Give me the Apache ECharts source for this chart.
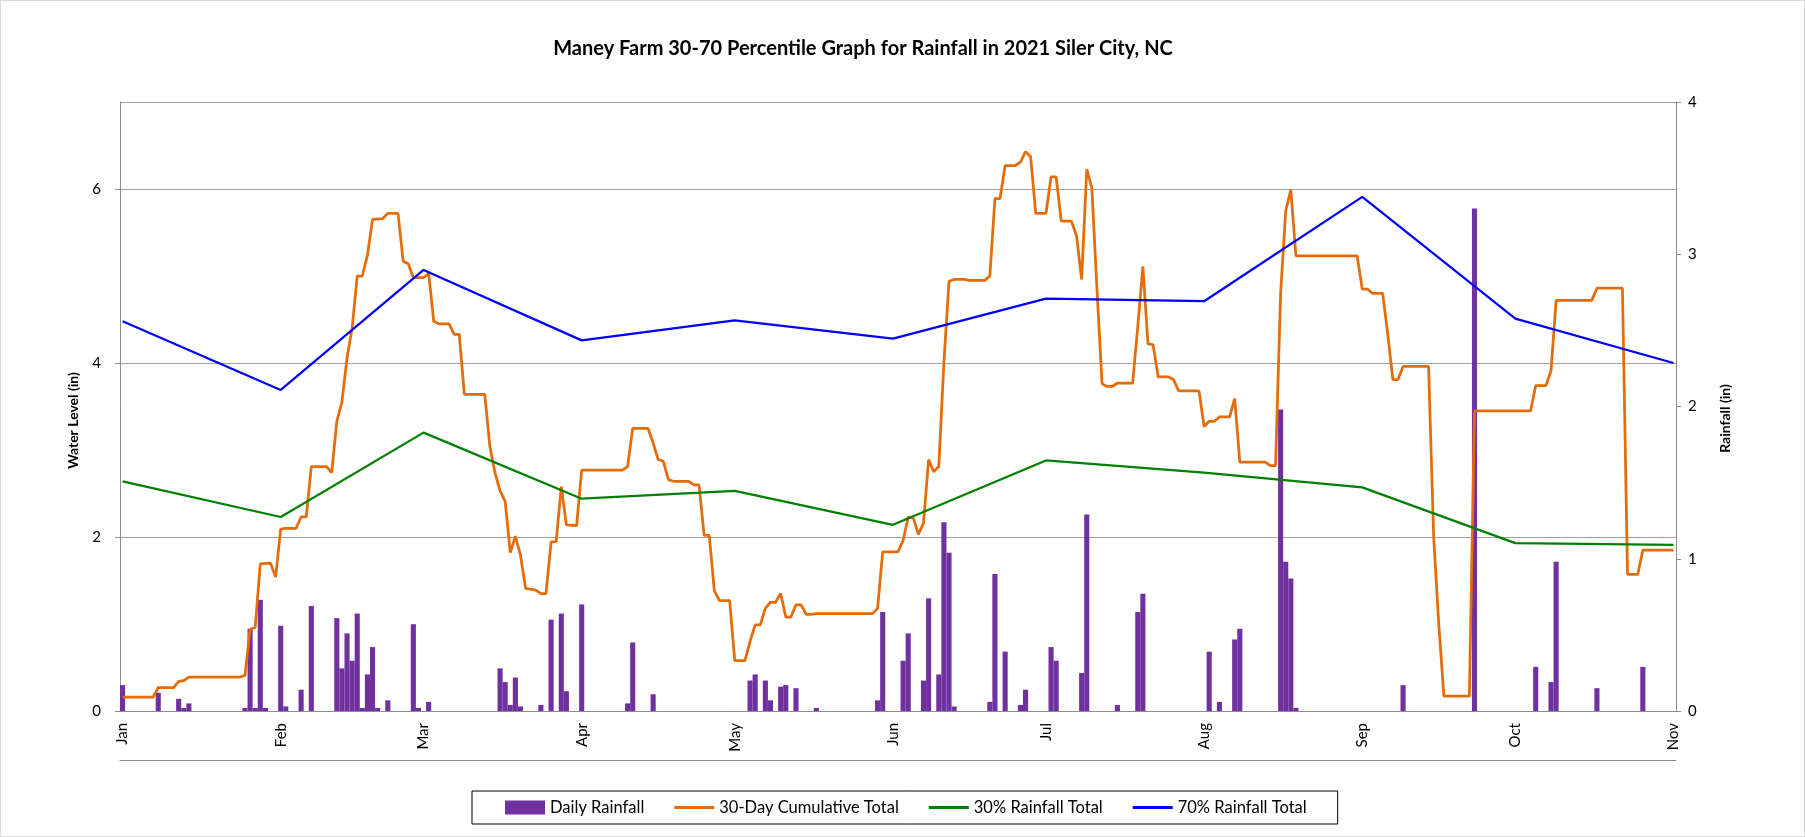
<!DOCTYPE html>
<html>
<head>
<meta charset="utf-8">
<title>Maney Farm 30-70 Percentile Graph</title>
<script src="https://cdn.jsdelivr.net/npm/echarts@6/dist/echarts.min.js"></script>
<style>
    body { margin: 0; background: #fff; }
    #main { width: 1805px; height: 837px; box-sizing: border-box; border: 1px solid #d9d9d9; }
</style>
</head>
<body>
<div id="main"></div>
<script>
// daily rainfall (right axis), only the days with rain
const rainDates = ['01-01','01-08','01-12','01-13','01-14','01-25','01-26','01-27','01-28','01-29',
    '02-01','02-02','02-05','02-07','02-12','02-13','02-14','02-15','02-16','02-17','02-18','02-19','02-20','02-22','02-27','02-28',
    '03-02','03-16','03-17','03-18','03-19','03-20','03-24','03-26','03-28','03-29',
    '04-01','04-10','04-11','04-15',
    '05-04','05-05','05-07','05-08','05-10','05-11','05-13','05-17','05-29','05-30',
    '06-03','06-04','06-07','06-08','06-10','06-11','06-12','06-13','06-20','06-21','06-23','06-26','06-27',
    '07-02','07-03','07-08','07-09','07-15','07-19','07-20',
    '08-02','08-04','08-07','08-08','08-16','08-17','08-18','08-19',
    '09-09','09-23',
    '10-05','10-08','10-09','10-17','10-26'];
const rainValues = [0.17,0.12,0.08,0.02,0.05,0.02,0.54,0.02,0.73,0.02,
    0.56,0.03,0.14,0.69,0.61,0.28,0.51,0.33,0.64,0.02,0.24,0.42,0.02,0.07,0.57,0.02,
    0.06,0.28,0.19,0.04,0.22,0.03,0.04,0.60,0.64,0.13,
    0.70,0.05,0.45,0.11,
    0.20,0.24,0.20,0.07,0.16,0.17,0.15,0.02,0.07,0.65,
    0.33,0.51,0.20,0.74,0.24,1.24,1.04,0.03,0.06,0.90,0.39,0.04,0.14,
    0.42,0.33,0.25,1.29,0.04,0.65,0.77,
    0.39,0.06,0.47,0.54,1.98,0.98,0.87,0.02,
    0.17,3.30,
    0.29,0.19,0.98,0.15,0.29];

// 30-day cumulative total (left axis), read where the line bends
const cumDates = ['01-01','01-07','01-08','01-11','01-12','01-13','01-14','01-24','01-25','01-26','01-27','01-28','01-30','01-31',
    '02-01','02-02','02-04','02-05','02-06','02-07','02-10','02-11','02-12','02-13','02-14','02-15','02-16','02-17','02-18','02-19',
    '02-21','02-22','02-24','02-25','02-26','02-27',
    '03-01','03-02','03-03','03-04','03-06','03-07','03-08','03-09','03-13','03-14','03-15','03-16','03-17','03-18','03-19','03-20',
    '03-21','03-23','03-24','03-25','03-26','03-27','03-28','03-29','03-31',
    '04-01','04-09','04-10','04-11','04-14','04-15','04-16','04-17','04-18','04-19','04-22','04-23','04-24','04-25','04-26','04-27',
    '04-28','04-30',
    '05-01','05-03','05-04','05-05','05-06','05-07','05-08','05-09','05-10','05-11','05-12','05-13','05-14','05-15','05-16','05-17',
    '05-28','05-29','05-30',
    '06-02','06-03','06-04','06-05','06-06','06-07','06-08','06-09','06-10','06-11','06-12','06-13','06-15','06-16','06-19','06-20',
    '06-21','06-22','06-23','06-25','06-26','06-27','06-28','06-29',
    '07-01','07-02','07-03','07-04','07-06','07-07','07-08','07-09','07-10','07-11','07-12','07-13','07-14','07-15','07-18','07-19',
    '07-20','07-21','07-22','07-23','07-25','07-26','07-27','07-31',
    '08-01','08-02','08-03','08-04','08-06','08-07','08-08','08-13','08-14','08-15','08-16','08-17','08-18','08-19','08-31',
    '09-01','09-02','09-03','09-05','09-06','09-07','09-08','09-09','09-14','09-15','09-16','09-17','09-22','09-23',
    '10-04','10-05','10-07','10-08','10-09','10-16','10-17','10-22','10-23','10-25','10-26','11-01'];
const cumValues = [0.16,0.16,0.27,0.27,0.34,0.35,0.39,0.39,0.41,0.94,0.96,1.69,1.70,1.54,
    2.09,2.10,2.10,2.23,2.23,2.81,2.81,2.74,3.33,3.55,4.06,4.40,5.00,5.00,5.24,5.65,
    5.66,5.72,5.72,5.17,5.14,4.98,
    4.98,5.03,4.48,4.45,4.45,4.33,4.33,3.64,3.64,3.04,2.74,2.53,2.41,1.82,2.01,1.79,
    1.41,1.39,1.35,1.35,1.94,1.95,2.58,2.14,2.13,
    2.77,2.77,2.81,3.25,3.25,3.08,2.89,2.87,2.66,2.64,2.64,2.60,2.60,2.02,2.02,1.38,
    1.27,1.27,
    0.58,0.58,0.80,0.99,0.99,1.18,1.25,1.25,1.35,1.08,1.08,1.22,1.22,1.11,1.11,1.12,
    1.12,1.18,1.83,
    1.83,1.96,2.23,2.22,2.03,2.16,2.89,2.75,2.81,4.01,4.94,4.96,4.96,4.95,4.95,5.00,
    5.89,5.89,6.27,6.27,6.31,6.43,6.37,5.72,
    5.72,6.14,6.14,5.63,5.63,5.46,4.96,6.23,6.01,4.85,3.76,3.73,3.73,3.77,3.77,4.42,
    5.11,4.22,4.21,3.84,3.84,3.81,3.68,3.68,
    3.27,3.33,3.33,3.38,3.38,3.59,2.86,2.86,2.82,2.82,4.80,5.75,5.99,5.23,5.23,
    4.85,4.85,4.80,4.80,4.33,3.81,3.81,3.96,3.96,2.00,1.00,0.17,0.17,3.45,
    3.45,3.74,3.74,3.91,4.72,4.72,4.86,4.86,1.57,1.57,1.85,1.85];

// percentile totals, one value per month start
const pctDates = ['01-01','02-01','03-01','04-01','05-01','06-01','07-01','08-01','09-01','10-01','11-01'];
const pct30 = [2.64,2.23,3.20,2.44,2.53,2.14,2.88,2.74,2.57,1.93,1.91];
const pct70 = [4.48,3.69,5.07,4.26,4.49,4.28,4.74,4.71,5.91,4.51,4.00];

const monthNames = ['Jan','Feb','Mar','Apr','May','Jun','Jul','Aug','Sep','Oct','Nov'];

// every day from Jan 1 to Nov 1 2021
let days = [];
for (let t = Date.UTC(2021, 0, 1); t <= Date.UTC(2021, 10, 1); t += 86400000) {
    let d = new Date(t);
    days.push(String(d.getUTCMonth() + 1).padStart(2, '0') + '-' + String(d.getUTCDate()).padStart(2, '0'));
}

function byDay(dates, values, empty) {
    let map = {};
    dates.forEach((d, i) => { map[d] = values[i]; });
    return days.map(d => (d in map ? map[d] : empty));
}

const isMonthStart = (i, v) => v.slice(3) === '01';
const font = 'Lato, "Liberation Sans", sans-serif';
const axisGrey = '#8c8c8c';
const lineIcon = 'path://M0,0H40V3H0Z';

let option = {
    backgroundColor: '#fff',
    textStyle: { fontFamily: font },
    animation: false,
    title: {
        text: 'Maney Farm 30-70 Percentile Graph for Rainfall in 2021 Siler City, NC',
        left: 857,
        textAlign: 'center',
        top: 33,
        textStyle: { fontFamily: font, fontSize: 20, fontWeight: 'bold', color: '#000' }
    },
    legend: {
        left: 471,
        top: 790,
        padding: [8, 31, 8, 33],
        itemGap: 30,
        itemWidth: 40,
        itemHeight: 14,
        borderColor: '#000',
        borderWidth: 1,
        textStyle: { fontFamily: font, fontSize: 16.5, color: '#000' },
        data: [
            { name: 'Daily Rainfall', icon: 'rect' },
            { name: '30-Day Cumulative Total', icon: lineIcon },
            { name: '30% Rainfall Total', icon: lineIcon },
            { name: '70% Rainfall Total', icon: lineIcon }
        ]
    },
    grid: [
        { left: 119, right: 128, top: 101, bottom: 125 },
        // strip whose top edge is the rule under the month labels
        { left: 119, right: 128, top: 759, height: 10 }
    ],
    xAxis: [
        {
            type: 'category',
            data: days,
            boundaryGap: true,
            axisLine: { lineStyle: { color: axisGrey } },
            axisTick: { interval: isMonthStart, length: 5, lineStyle: { color: axisGrey } },
            axisLabel: {
                interval: isMonthStart,
                rotate: 90,
                margin: 12,
                fontSize: 15,
                color: '#000',
                formatter: v => monthNames[Number(v.slice(0, 2)) - 1]
            }
        },
        {
            gridIndex: 1,
            type: 'category',
            data: days,
            position: 'top',
            axisLine: { show: true, onZero: false, lineStyle: { color: axisGrey, width: 1 } },
            axisTick: { show: false },
            axisLabel: { show: false },
            splitLine: { show: false }
        }
    ],
    yAxis: [
        {
            type: 'value',
            name: 'Water Level (in)',
            nameLocation: 'middle',
            nameRotate: 90,
            nameGap: 40,
            nameTextStyle: { fontFamily: font, fontSize: 14, fontWeight: 'bold', color: '#000', padding: [0, 28, 0, 0] },
            min: 0,
            max: 7,
            interval: 2,
            axisLine: { show: true, lineStyle: { color: axisGrey } },
            axisTick: { show: true, length: 5, lineStyle: { color: axisGrey } },
            axisLabel: { showMaxLabel: false, margin: 19, fontSize: 15, color: '#000' },
            splitLine: { lineStyle: { color: '#a0a0a0', width: 1 } }
        },
        {
            type: 'value',
            name: 'Rainfall (in)',
            nameLocation: 'middle',
            nameRotate: 90,
            nameGap: 42,
            nameTextStyle: { fontFamily: font, fontSize: 14, fontWeight: 'bold', color: '#000', padding: [0, 24, 0, 0] },
            position: 'right',
            min: 0,
            max: 4,
            interval: 1,
            axisLine: { show: true, lineStyle: { color: axisGrey } },
            axisTick: { show: true, length: 5, lineStyle: { color: axisGrey } },
            axisLabel: { margin: 12, fontSize: 15, color: '#000' },
            splitLine: { show: false }
        },
        {
            gridIndex: 1,
            type: 'value',
            axisLine: { show: false },
            axisTick: { show: false },
            axisLabel: { show: false },
            splitLine: { show: false }
        }
    ],
    series: [
        {
            name: 'Daily Rainfall',
            type: 'bar',
            yAxisIndex: 1,
            data: byDay(rainDates, rainValues, 0),
            barCategoryGap: '0%',
            itemStyle: { color: '#7030a0' }
        },
        {
            name: '30-Day Cumulative Total',
            type: 'line',
            data: byDay(cumDates, cumValues, null),
            connectNulls: true,
            symbol: 'none',
            lineStyle: { color: '#e46c0a', width: 2.75 },
            itemStyle: { color: '#e46c0a' }
        },
        {
            name: '30% Rainfall Total',
            type: 'line',
            data: byDay(pctDates, pct30, null),
            connectNulls: true,
            symbol: 'none',
            lineStyle: { color: '#008000', width: 2.25 },
            itemStyle: { color: '#008000' }
        },
        {
            name: '70% Rainfall Total',
            type: 'line',
            data: byDay(pctDates, pct70, null),
            connectNulls: true,
            symbol: 'none',
            lineStyle: { color: '#0000ff', width: 2.25 },
            itemStyle: { color: '#0000ff' }
        }
    ]
};

let myChart = echarts.init(document.getElementById('main'));
myChart.setOption(option);
</script>
</body>
</html>
